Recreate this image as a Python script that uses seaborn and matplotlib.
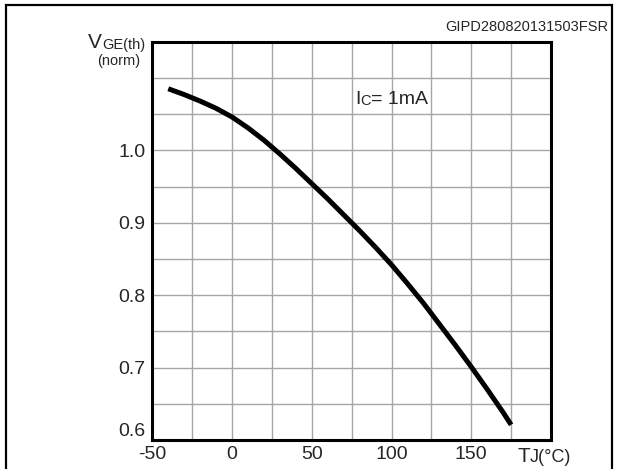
import matplotlib
matplotlib.use("Agg")
import pandas as pd
import matplotlib.pyplot as plt
from matplotlib.patches import Rectangle
import seaborn as sns

# curve (normalised VGE(th) vs junction temperature)
temp_c = [-40, -30, -20, -10, 0, 10, 20, 30, 40, 50, 60, 70, 80, 90,
          100, 110, 120, 130, 140, 150, 160, 170, 175]
vge_norm = [1.085, 1.077, 1.068, 1.058, 1.046, 1.031, 1.014, 0.995, 0.975,
            0.954, 0.933, 0.911, 0.889, 0.866, 0.842, 0.816, 0.789, 0.760,
            0.731, 0.701, 0.670, 0.638, 0.621]

x_ticks = [-50, -25, 0, 25, 50, 75, 100, 125, 150, 175, 200]
x_labels = ["-50", "", "0", "", "50", "", "100", "", "150", "", ""]
y_ticks = [0.6, 0.65, 0.7, 0.75, 0.8, 0.85, 0.9, 0.95, 1.0, 1.05, 1.1, 1.15]
y_labels = ["0.6", "", "0.7", "", "0.8", "", "0.9", "", "1.0", "", "", ""]

df = pd.DataFrame({"Tj": temp_c, "Vge": vge_norm})

W, H = 617, 469
sns.set_style("white")
plt.rcParams["font.family"] = ["Liberation Sans", "DejaVu Sans"]

fig = plt.figure(figsize=(W / 100, H / 100), dpi=100)
ax = fig.add_axes([152.3 / W, 1 - 440 / H, (551 - 152.3) / W, (440 - 41.7) / H])

sns.lineplot(data=df, x="Tj", y="Vge", ax=ax, color="black", linewidth=3.6,
             solid_capstyle="butt")

ax.set_xlim(-50, 200)
ax.set_ylim(0.6, 1.15)
ax.set_xticks(x_ticks)
ax.set_xticklabels(x_labels, fontsize=14)
ax.set_yticks(y_ticks)
ax.set_yticklabels(y_labels, fontsize=14)
ax.tick_params(length=0, pad=4)
ax.tick_params(axis="y", pad=5)
ax.set_xlabel("")
ax.set_ylabel("")
ax.grid(True, color="#a6a6a6", linewidth=1.0)
ax.set_axisbelow(True)
for sp in ax.spines.values():
    sp.set_visible(True)
    sp.set_color("black")
    sp.set_linewidth(2.2)

# bottom label sits above the axis line
ax.get_yticklabels()[0].set_verticalalignment("bottom")

# annotation inside the plot
t_i = ax.text(77, 1.0636, "I", fontsize=14, va="baseline")
t_c = ax.annotate("C", xy=(1, 0), xycoords=t_i, fontsize=10.5, va="bottom")
ax.annotate("= 1mA", xy=(1, 0), xycoords=t_c, fontsize=14, va="bottom")

# y axis label
t_v = fig.text(88 / W, 1 - 48 / H, "V", fontsize=15, va="baseline")
ax.annotate("GE(th)", xy=(1, 0), xycoords=t_v, fontsize=10.5, va="bottom",
            annotation_clip=False)
fig.text(140 / W, 1 - 61 / H, "(norm)", fontsize=10.5, ha="right", va="center")

# x axis label
t_t = fig.text(517 / W, 1 - 462 / H, "T", fontsize=15, va="baseline")
ax.annotate("J(°C)", xy=(1, 0), xycoords=t_t, fontsize=13, va="bottom",
            annotation_clip=False)

# figure code, top right
fig.text(608 / W, 1 - 27 / H, "GIPD280820131503FSR", fontsize=10.5,
         ha="right", va="center")

# outer frame
fig.patches.append(Rectangle((6 / W, -0.05), (612 - 6) / W, 1.05 - 5 / H,
                             transform=fig.transFigure, fill=False,
                             edgecolor="black", linewidth=1.6))

fig.savefig("out.png", dpi=100)
